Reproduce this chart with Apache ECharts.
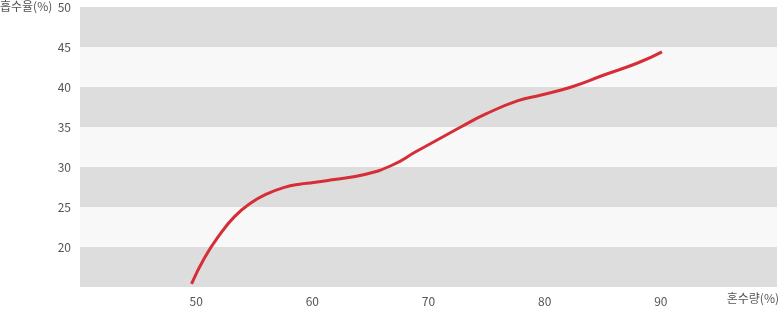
<!DOCTYPE html>
<html>
<head>
<meta charset="utf-8">
<script src="https://cdn.jsdelivr.net/npm/echarts@6/dist/echarts.min.js"></script>
<style>
html,body{margin:0;padding:0;background:#fff;}
#c{width:780px;height:309px;}
</style>
</head>
<body>
<div id="c"></div>
<script>
const xValues = [49.6, 50.7, 51.9, 53.3, 54.7, 56.1, 57.6, 58.9, 60.1, 61.7, 64.6, 66.9, 68.9, 70.9, 72.9, 74.9, 77.7, 79.7, 82.3, 85.1, 88.0, 90.1];
const yValues = [15.4, 18.6, 21.3, 23.8, 25.5, 26.65, 27.45, 27.85, 28.05, 28.4, 29.1, 30.25, 31.9, 33.5, 35.1, 36.6, 38.3, 39.0, 40.0, 41.5, 43.0, 44.4];
const xTickLabels = [50, 60, 70, 80, 90];
const yTickLabels = [20, 25, 30, 35, 40, 45, 50];
const yAxisTitle = '흡수율(%)';
const xAxisTitle = '혼수량(%)';

const font = '"Noto Sans CJK KR", "Noto Sans", sans-serif';
const chart = echarts.init(document.getElementById('c'));
chart.setOption({
  animation: false,
  grid: {left: 80, right: 0, top: 7, bottom: 22},
  xAxis: {
    type: 'value', min: 40, max: 100, interval: 10,
    axisLine: {show: false}, axisTick: {show: false}, splitLine: {show: false},
    axisLabel: {
      color: '#555', fontSize: 12, fontFamily: font, margin: 8,
      formatter: v => xTickLabels.includes(v) ? String(v) : ''
    }
  },
  yAxis: {
    type: 'value', min: 15, max: 50, interval: 5,
    axisLine: {show: false}, axisTick: {show: false}, splitLine: {show: false},
    splitArea: {show: true, areaStyle: {color: ['#dddddd', '#f8f8f8']}},
    axisLabel: {
      color: '#555', fontSize: 12, fontFamily: font, margin: 9,
      formatter: v => yTickLabels.includes(v) ? String(v) : ''
    }
  },
  graphic: [
    {type: 'text', left: 0, top: 0, style: {text: yAxisTitle, fill: '#555', font: '12px ' + font}},
    {type: 'text', right: 1, top: 292, style: {text: xAxisTitle, fill: '#555', font: '12px ' + font}}
  ],
  series: [{
    type: 'line',
    data: xValues.map((x, i) => [x, yValues[i]]),
    smooth: 0.5,
    showSymbol: false,
    lineStyle: {color: '#d62d37', width: 3}
  }]
});
</script>
</body>
</html>
